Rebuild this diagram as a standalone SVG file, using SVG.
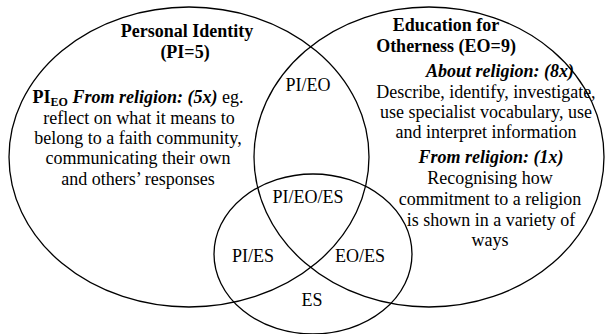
<svg xmlns="http://www.w3.org/2000/svg" width="605" height="334" viewBox="0 0 605 334">
<style>
.ring{fill:none;stroke:#000;stroke-width:1.3}
.t text{font-size:18px;fill:#000;text-anchor:middle}
.b{font-weight:bold}
.bi{font-weight:bold;font-style:italic}
.sub{font-weight:bold;font-size:12px}
</style>
<rect width="605" height="334" fill="#fff"/>
<g class="t" font-family="'Liberation Serif', 'Times New Roman', Times, 'DejaVu Serif', serif">
<g id="pi">
<ellipse class="ring" cx="189" cy="157" rx="180" ry="150"/>
<text class="b" x="187" y="37">Personal Identity</text>
<text class="b" x="185" y="58">(PI=5)</text>
<text x="138" y="103"><tspan class="b">PI</tspan><tspan class="sub" dy="3">EO</tspan><tspan class="bi" dy="-3"> From religion: (5x)</tspan> eg.</text>
<text x="139" y="124">reflect on what it means to</text>
<text x="138" y="144">belong to a faith community,</text>
<text x="138" y="164">communicating their own</text>
<text x="138" y="185">and others’ responses</text>
</g>
<g id="eo">
<ellipse class="ring" cx="429" cy="157" rx="175" ry="150"/>
<text class="b" x="446" y="31">Education for</text>
<text class="b" x="446" y="52">Otherness (EO=9)</text>
<text class="bi" x="500" y="77">About religion: (8x)</text>
<text x="486" y="98" font-size="18.5">Describe, identify, investigate,</text>
<text x="486" y="118" font-size="18.5">use specialist vocabulary, use</text>
<text x="486" y="138" font-size="18.5">and interpret information</text>
<text class="bi" x="491" y="163">From religion: (1x)</text>
<text x="490" y="184">Recognising how</text>
<text x="490" y="205">commitment to a religion</text>
<text x="491" y="226">is shown in a variety of</text>
<text x="490" y="246">ways</text>
</g>
<g id="es">
<ellipse class="ring" cx="313" cy="254" rx="99" ry="80"/>
<text x="312" y="306">ES</text>
</g>
<g id="pi-eo"><text x="308" y="91">PI/EO</text></g>
<g id="pi-eo-es"><text x="308" y="203">PI/EO/ES</text></g>
<g id="pi-es"><text x="253" y="262">PI/ES</text></g>
<g id="eo-es"><text x="360" y="262">EO/ES</text></g>
</g>
</svg>
